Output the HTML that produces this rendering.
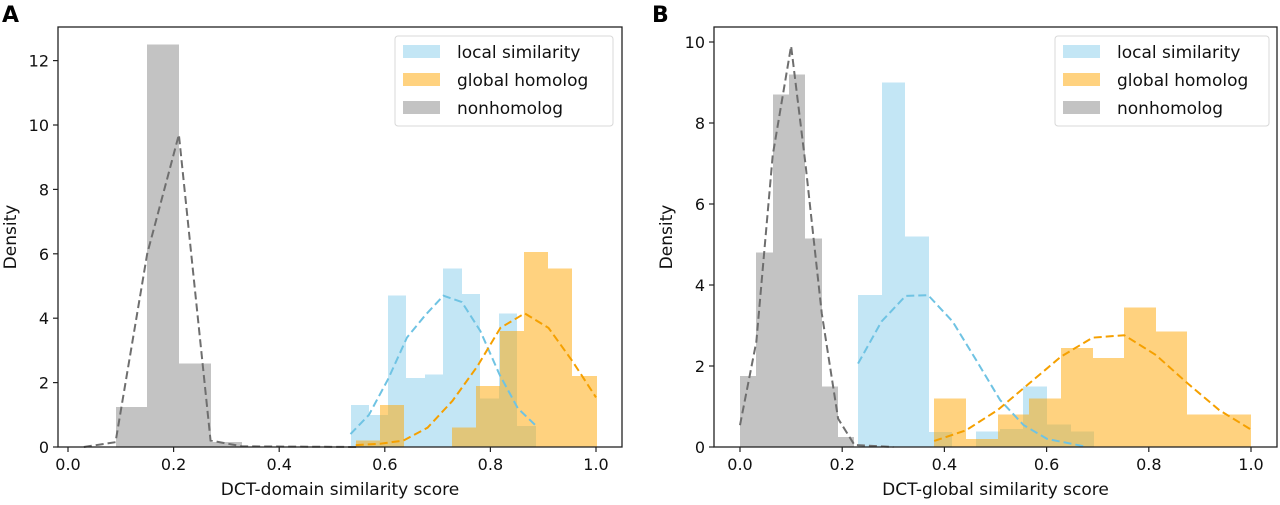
<!DOCTYPE html>
<html><head><meta charset="utf-8"><style>
body{margin:0;background:#fff;font-family:"Liberation Sans","DejaVu Sans",sans-serif}
svg text{font-family:"DejaVu Sans","Liberation Sans",sans-serif}
</style></head><body>
<svg id="c" width="1280" height="500" viewBox="0 0 1280 500"></svg>
<script>
// ---------- Panel A data ----------
const aLocalStart = 0.5354, aLocalW = 0.0351;
const aLocal = [1.31, 1.0, 4.7, 2.15, 2.25, 5.55, 4.75, 1.5, 4.15, 0.65];
const aGlobalStart = 0.545, aGlobalW = 0.0456;
const aGlobal = [0.2, 1.3, 0, 0, 0.6, 1.9, 3.6, 6.05, 5.55, 2.2];
const aNonStart = 0.09, aNonW = 0.06;
const aNon = [1.25, 12.5, 2.6, 0.15];
const aLocalKdeX = [0.535,0.57,0.606,0.642,0.677,0.711,0.746,0.781,0.817,0.852,0.887];
const aLocalKdeY = [0.4,1.0,2.1,3.4,4.1,4.7,4.5,3.6,2.26,1.2,0.65];
const aGlobalKdeX = [0.545,0.591,0.635,0.681,0.728,0.775,0.819,0.865,0.91,0.956,1.0];
const aGlobalKdeY = [0.06,0.1,0.2,0.6,1.43,2.5,3.7,4.15,3.7,2.65,1.54];
const aNonKdeX = [0.03,0.09,0.15,0.21,0.27,0.33,0.55];
const aNonKdeY = [0,0.15,6.0,9.7,0.2,0.02,0];
const aXTicks = [0,0.2,0.4,0.6,0.8,1.0];
const aXTickLabels = ["0.0","0.2","0.4","0.6","0.8","1.0"];
const aYTicks = [0,2,4,6,8,10,12];
// ---------- Panel B data ----------
const bLocalStart = 0.231, bLocalW = 0.0462;
const bLocal = [3.75, 9.0, 5.2, 0.37, 0, 0.38, 0.45, 1.5, 0.55, 0.38];
const bGlobalStart = 0.3805, bGlobalW = 0.0619;
const bGlobal = [1.2, 0.2, 0.8, 1.2, 2.45, 2.2, 3.45, 2.85, 0.8, 0.8];
const bNonStart = 0.0, bNonW = 0.032;
const bNon = [1.75, 4.8, 8.7, 9.2, 5.15, 1.5, 0.25];
const bLocalKdeX = [0.231,0.277,0.324,0.368,0.416,0.462,0.509,0.555,0.601,0.672];
const bLocalKdeY = [2.06,3.1,3.73,3.75,3.1,2.15,1.16,0.54,0.2,0.02];
const bGlobalKdeX = [0.38,0.442,0.504,0.566,0.628,0.69,0.752,0.814,0.876,0.938,1.0];
const bGlobalKdeY = [0.15,0.41,0.91,1.57,2.23,2.7,2.76,2.27,1.57,0.91,0.43];
const bNonKdeX = [0,0.032,0.064,0.1,0.128,0.16,0.192,0.224,0.3];
const bNonKdeY = [0.54,2.6,7.2,9.9,7.0,3.3,0.7,0.05,0];
const bXTicks = [0,0.2,0.4,0.6,0.8,1.0];
const bXTickLabels = ["0.0","0.2","0.4","0.6","0.8","1.0"];
const bYTicks = [0,2,4,6,8,10];

const NS="http://www.w3.org/2000/svg";
const svg=document.getElementById('c');
function mk(tag,attrs,parent){const e=document.createElementNS(NS,tag);for(const k in attrs)e.setAttribute(k,attrs[k]);(parent||svg).appendChild(e);return e;}

function panel(cfg){
  const g=mk('g',{});
  
  
  const X=v=>cfg.x0px+(v)*cfg.xs;
  const Y=v=>cfg.y0px-v*cfg.ys;
  function bars(start,w,vals,color,nm){
    vals.forEach((v,i)=>{ if(v<=0)return;
      const x1=Math.round(X(start+i*w)), x2=Math.round(X(start+(i+1)*w));
      const r=mk('rect',{x:x1,y:Y(v),width:x2-x1,height:Y(0)-Y(v),fill:color,'fill-opacity':0.5,'shape-rendering':'crispEdges'},g);
      
      
    });
  }
  bars(cfg.localStart,cfg.localW,cfg.local,'#87ceeb','local');
  bars(cfg.globalStart,cfg.globalW,cfg.global,'#ffa500','global');
  bars(cfg.nonStart,cfg.nonW,cfg.non,'#888888','nonhomolog');
  function line(xs,ys,color,nm){
    const p=mk('polyline',{points:xs.map((x,i)=>X(x)+','+Y(ys[i])).join(' '),fill:'none',stroke:color,'stroke-width':2,'stroke-dasharray':'8,4'},g);
    
    
  }
  line(cfg.localKX,cfg.localKY,'#6fc3e3','local-kde-line');
  line(cfg.globalKX,cfg.globalKY,'#f5a000','global-kde-line');
  line(cfg.nonKX,cfg.nonKY,'#6e6e6e','nonhomolog-kde-line');
  const fr=mk('rect',{x:cfg.L,y:cfg.T,width:cfg.R-cfg.L,height:cfg.B-cfg.T,fill:'none',stroke:'#222','stroke-width':1.3},g);
  
  
  cfg.xt.forEach((t,i)=>{
    mk('line',{x1:X(t),x2:X(t),y1:cfg.B,y2:cfg.B+5,stroke:'#222','stroke-width':1.2},g);
    const tx=mk('text',{x:X(t),y:cfg.B+23,'font-size':16,'text-anchor':'middle',fill:'#111'},g);
    tx.textContent=cfg.xtl[i];
    
    
  });
  cfg.yt.forEach(t=>{
    mk('line',{x1:cfg.L-5,x2:cfg.L,y1:Y(t),y2:Y(t),stroke:'#222','stroke-width':1.2},g);
    const ty=mk('text',{x:cfg.L-9,y:Y(t)+6,'font-size':16,'text-anchor':'end',fill:'#111'},g);
    ty.textContent=String(t);
    
    
  });
  const xl=mk('text',{x:(cfg.L+cfg.R)/2,y:cfg.B+48,'font-size':17,'text-anchor':'middle',fill:'#111'},g);
  xl.textContent=cfg.xlabel;
  
  
  const yl=mk('text',{x:0,y:0,'font-size':17,'text-anchor':'middle',fill:'#111',transform:`translate(${cfg.L-42},${(cfg.T+cfg.B)/2}) rotate(-90)`},g);
  yl.textContent='Density';
  
  
  const pl=mk('text',{x:cfg.letterX,y:22,'font-size':22,'font-weight':'bold',fill:'#000'},g);
  pl.textContent=cfg.letter;
  
  
  const lg=mk('g',{},g);
  
  
  mk('rect',{x:cfg.legX,y:36,width:cfg.legW,height:90,rx:3,fill:'#fff','fill-opacity':0.85,stroke:'#d8d8d8'},lg);
  [['local similarity','#87ceeb'],['global homolog','#ffa500'],['nonhomolog','#888888']].forEach((e,i)=>{
    const r=mk('rect',{x:cfg.legX+8,y:45+i*28,width:37,height:13,fill:e[1],'fill-opacity':0.5},lg);
    
    
    const t=mk('text',{x:cfg.legX+62,y:58+i*28,'font-size':17,fill:'#111'},lg);
    t.textContent=e[0];
    
    
  });
}
panel({name:'panel-a',letter:'A',letterX:2,L:58,R:622,T:27,B:447,x0px:68,xs:528,y0px:447,ys:32.2,
  localStart:aLocalStart,localW:aLocalW,local:aLocal,globalStart:aGlobalStart,globalW:aGlobalW,global:aGlobal,
  nonStart:aNonStart,nonW:aNonW,non:aNon,localKX:aLocalKdeX,localKY:aLocalKdeY,globalKX:aGlobalKdeX,globalKY:aGlobalKdeY,
  nonKX:aNonKdeX,nonKY:aNonKdeY,xt:aXTicks,xtl:aXTickLabels,yt:aYTicks,xlabel:'DCT-domain similarity score',legX:395,legW:218});
panel({name:'panel-b',letter:'B',letterX:652,L:714,R:1277,T:27,B:447,x0px:740,xs:511,y0px:447,ys:40.5,
  localStart:bLocalStart,localW:bLocalW,local:bLocal,globalStart:bGlobalStart,globalW:bGlobalW,global:bGlobal,
  nonStart:bNonStart,nonW:bNonW,non:bNon,localKX:bLocalKdeX,localKY:bLocalKdeY,globalKX:bGlobalKdeX,globalKY:bGlobalKdeY,
  nonKX:bNonKdeX,nonKY:bNonKdeY,xt:bXTicks,xtl:bXTickLabels,yt:bYTicks,xlabel:'DCT-global similarity score',legX:1055,legW:214});
</script>
</body></html>
